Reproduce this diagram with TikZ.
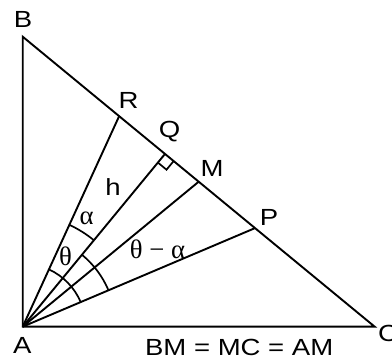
\documentclass[tikz,border=0pt]{standalone}
\usepackage{fontspec}
\setmainfont{Liberation Sans}[FakeStretch=1.18]
\newfontfamily\grkfont{Liberation Serif}
\usetikzlibrary{calc}
\begin{document}
\begin{tikzpicture}[scale=1.0,
    triSide/.style={line width=1.35pt},
    angArc/.style={line width=1.2pt},
    ptLbl/.style={font=\fontsize{16.6}{19}\selectfont,inner sep=0pt},
    angLbl/.style={font=\grkfont\fontsize{19}{22}\selectfont,inner sep=0pt},
]
\useasboundingbox (-0.5675,-0.8325) rectangle (9.2325,8.1675);
% Triangle vertices
\coordinate (A) at (0,0);
\coordinate (B) at (0,7.25);
\coordinate (C) at (8.8,0);
% Points on BC (Q is the foot of the altitude, M the midpoint)
\coordinate (R) at ($(B)!0.274!(C)$);
\coordinate (Q) at ($(B)!(A)!(C)$);
\coordinate (M) at ($(B)!0.5!(C)$);
\coordinate (P) at ($(B)!0.66!(C)$);
\draw[triSide] (A) -- (B) -- (C) -- cycle;
\draw[triSide] (A) -- (R);
\draw[triSide] (A) -- (Q);
\draw[triSide] (A) -- (M);
\draw[triSide] (A) -- (P);
% Right angle at Q
\coordinate (Qa) at ($(Q)!0.28cm!(A)$);
\coordinate (Qc) at ($(Q)!0.28cm!(C)$);
\draw[angArc] (Qa) -- ($(Qa)+(Qc)-(Q)$) -- (Qc);
% Angle arcs
\draw[angArc] ([shift={(65.4:2.8)}]A) arc[start angle=65.4,end angle=50.5,radius=2.8];
\draw[angArc] ([shift={(65.4:1.575)}]A) arc[start angle=65.4,end angle=23.0,radius=1.575];
\draw[angArc] ([shift={(50.5:2.33)}]A) arc[start angle=50.5,end angle=23.0,radius=2.33];
% Labels
\node[ptLbl] (lA) at (-0.01,-0.4575) {A};
\node[ptLbl] (lB) at (0.0075,7.68) {B};
\node[ptLbl,anchor=west] (lC) at (8.88,-0.16) {C};
\node[ptLbl] (lR) at (2.645,5.655) {R};
\node[ptLbl] (lQ) at (3.67,4.8675) {Q};
\node[ptLbl] (lM) at (4.7325,3.9675) {M};
\node[ptLbl] (lP) at (6.1575,2.73) {P};
\node[ptLbl] (lh) at (2.2575,3.4925) {h};
\node[angLbl] (lal) at (1.6,2.7175) {α};
\node[angLbl] (lth) at (1.07,1.7675) {θ};
\node[angLbl] (ltd) at (3.37,1.9425) {θ − α};
\node[ptLbl] (eq) at (5.4125,-0.53) {BM = MC = AM};
\end{tikzpicture}
\end{document}
